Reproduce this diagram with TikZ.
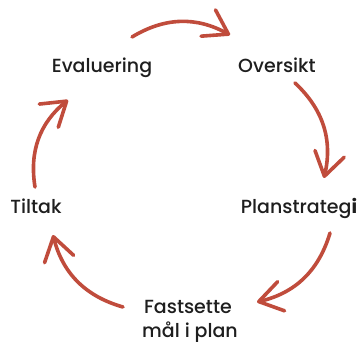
\documentclass[tikz,border=0pt]{standalone}
\usepackage{fontspec}
\setmainfont{Poppins}[UprightFont={* Medium},BoldFont={* Bold}]
\usetikzlibrary{arrows.meta}
\definecolor{arrowred}{RGB}{192,76,60}
\definecolor{txt}{RGB}{30,30,30}
\begin{document}
\begin{tikzpicture}[x=1pt,y=-1pt,
  lbl/.style={anchor=base,inner sep=0pt,text=txt,font=\fontsize{19}{22}\selectfont},
  cyc/.style={draw=arrowred,line width=3.6pt,line cap=round,
    -{Straight Barb[length=23pt,width=30pt,line width=3.6pt,round]},bend left=30}]
\useasboundingbox (0,0) rectangle (363,344);
\node[lbl] (ev) at (102,73) {Evaluering};
\node[lbl] (ov) at (277,73) {Oversikt};
\node[lbl] (pl) at (299,214) {Planstrateg\textbf{i}};
\node[lbl] (ti) at (36,214) {Tiltak};
\node[lbl] (fa) at (188,313) {Fastsette};
\node[lbl] (ma) at (190,337) {mål i plan};
\coordinate (a1s) at (132,37);  \coordinate (a1e) at (230,35);
\coordinate (a2s) at (295,83);  \coordinate (a2e) at (324,178);
\coordinate (a3s) at (330,233); \coordinate (a3e) at (257,302);
\coordinate (a4s) at (123,307); \coordinate (a4e) at (53,235);
\coordinate (a5s) at (35,187);  \coordinate (a5e) at (68,100);
\draw[cyc] (a1s) to (a1e);
\draw[cyc] (a2s) to (a2e);
\draw[cyc] (a3s) to (a3e);
\draw[cyc] (a4s) to (a4e);
\draw[cyc] (a5s) to (a5e);
\end{tikzpicture}
\end{document}
